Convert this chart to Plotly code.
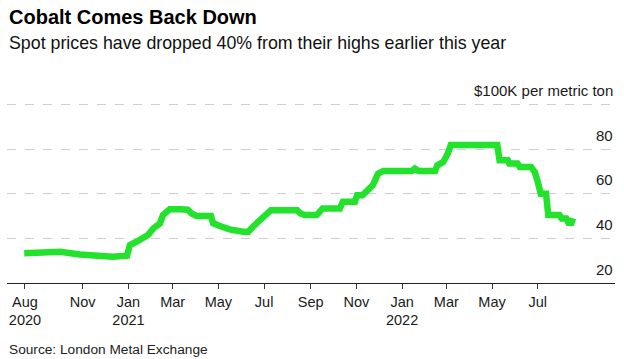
import plotly.graph_objects as go

dates = ["2020-08-15","2020-09-10","2020-09-13","2020-10-02","2020-10-28","2020-11-24","2020-12-11","2020-12-30",
         "2021-01-03","2021-01-12","2021-01-27","2021-02-03","2021-02-12","2021-02-16","2021-02-25","2021-03-10",
         "2021-03-21","2021-03-26","2021-04-02","2021-04-21","2021-04-24","2021-05-03","2021-05-16","2021-06-03",
         "2021-06-10","2021-06-16","2021-06-25","2021-07-02","2021-07-10","2021-08-14","2021-08-18","2021-08-24",
         "2021-09-09","2021-09-12","2021-09-17","2021-10-10","2021-10-14","2021-10-30","2021-11-02","2021-11-09",
         "2021-11-15","2021-11-23","2021-11-30","2021-12-07","2022-01-14","2022-01-18","2022-01-23","2022-02-14",
         "2022-02-17","2022-02-25","2022-03-03","2022-03-07","2022-05-08","2022-05-11","2022-05-22","2022-05-24",
         "2022-06-04","2022-06-07","2022-06-22","2022-06-27","2022-07-01","2022-07-05","2022-07-12","2022-07-15",
         "2022-07-30","2022-08-02","2022-08-08","2022-08-11","2022-08-15","2022-08-17"]
prices = [33.3,33.3,34.0,34.0,32.8,32.1,31.8,32.2,
          37.0,38.5,41.5,44.4,46.7,50.4,53.0,53.0,
          52.8,51.2,50.0,50.0,46.7,45.5,44.0,43.0,
          43.0,45.2,48.0,50.4,52.6,52.6,51.2,50.4,
          50.4,51.4,53.4,53.4,56.4,56.4,59.3,59.3,
          61.6,63.8,69.0,70.2,70.2,71.3,70.2,70.2,
          72.7,74.2,78.0,81.8,81.8,75.0,75.0,73.5,
          73.5,72.0,72.0,69.7,65.3,60.0,60.0,50.4,
          50.4,48.9,48.9,47.0,47.0,49.0]

x_tickvals = ["2020-08-16","2020-11-01","2021-01-01","2021-03-01","2021-05-01","2021-07-01","2021-09-01",
              "2021-11-01","2022-01-01","2022-03-01","2022-05-01","2022-07-01"]
x_ticktext = ["Aug<br>2020","Nov","Jan<br>2021","Mar","May","Jul","Sep","Nov","Jan<br>2022","Mar","May","Jul"]
y_tickvals = [20, 40, 60, 80, 100]
y_ticktext = ["20", "40", "60", "80", "$100K per metric ton"]

title = "Cobalt Comes Back Down"
subtitle = "Spot prices have dropped 40% from their highs earlier this year"
source = "Source: London Metal Exchange"

FONT = "Liberation Sans, Arial, sans-serif"

fig = go.Figure()
fig.add_trace(go.Scatter(x=dates, y=prices, mode="lines",
                         line=dict(color="#22e22c", width=6.5), hoverinfo="skip"))

W, H = 624, 359
L, R, T, B = 7, 9, 100.6, 76
ph = H - T - B

def py(p):
    return (H - B - p) / ph

annotations = [
    dict(text="<b>" + title + "</b>", xref="paper", yref="paper", x=0, y=py(16),
         xanchor="left", yanchor="middle", showarrow=False,
         font=dict(size=20, family=FONT, color="#000")),
    dict(text=subtitle, xref="paper", yref="paper", x=0, y=py(42),
         xanchor="left", yanchor="middle", showarrow=False,
         font=dict(size=17.8, family=FONT, color="#111")),
    dict(text=source, xref="paper", yref="paper", x=0, y=py(350),
         xanchor="left", yanchor="middle", showarrow=False,
         font=dict(size=13.7, family=FONT, color="#222")),
]
for v, t in zip(y_tickvals, y_ticktext):
    annotations.append(dict(text=t, xref="paper", yref="y", x=1, y=v,
                            xanchor="right", yanchor="middle", yshift=14, showarrow=False,
                            font=dict(size=15, family=FONT, color="#1a1a1a")))

fig.update_layout(
    width=W, height=H,
    margin=dict(l=L, r=R, t=T, b=B, autoexpand=False),
    paper_bgcolor="white", plot_bgcolor="white",
    showlegend=False,
    font=dict(family=FONT, color="#1a1a1a", size=14),
    xaxis=dict(
        type="date", automargin=False,
        range=["2020-07-23", "2022-10-12"],
        tickvals=x_tickvals, ticktext=x_ticktext,
        ticks="outside", ticklen=5, tickcolor="#333", tickwidth=1,
        showline=True, linecolor="#222", linewidth=1.3,
        showgrid=False, zeroline=False,
        tickfont=dict(size=14.5, family=FONT, color="#1a1a1a"),
    ),
    yaxis=dict(
        range=[20, 101.5], automargin=False,
        tickvals=y_tickvals, showticklabels=False,
        ticks="", showline=False, zeroline=False,
        showgrid=True, gridcolor="#cfcfcf", griddash="dash", gridwidth=1,
    ),
    annotations=annotations,
)

fig.write_html("out.html", config={"displayModeBar": False},
               post_script="document.body.style.margin='0';document.body.style.overflow='hidden';")
